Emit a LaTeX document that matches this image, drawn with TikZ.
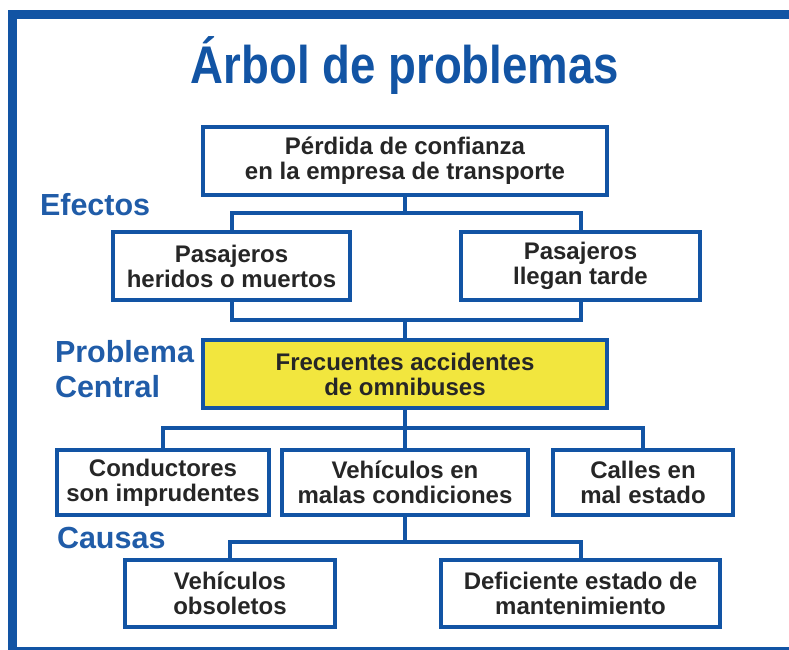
\documentclass[tikz,border=0pt]{standalone}
\usepackage{fontspec}
\setmainfont{Liberation Sans}
\newfontfamily\titlefont[FakeStretch=0.86]{Liberation Sans}
\usetikzlibrary{positioning, calc}

\definecolor{frameblue}{RGB}{18,84,164}
\definecolor{labelblue}{RGB}{32,92,168}
\definecolor{boxyellow}{RGB}{242,230,62}
\definecolor{ink}{RGB}{38,38,38}

\begin{document}
\begin{tikzpicture}[x=1pt, y=-1pt, line width=4pt]
	\tikzstyle{problem} = [draw=frameblue, fill=white, line width=4pt, inner sep=0pt, minimum height=68pt, align=center, text=ink, font=\fontsize{24}{25}\selectfont\bfseries];
	\tikzstyle{core} = [problem, fill=boxyellow];
	\tikzstyle{heading} = [text=labelblue, inner sep=0pt, font=\fontsize{30.5}{35}\selectfont\bfseries];
	\tikzstyle{link} = [draw=frameblue, line width=4pt];
	
	\useasboundingbox (0,0) rectangle (789,649);
	\draw[frameblue, line width=9pt] (12.5,14.5) rectangle (805,651);
	
	\node[text=frameblue, inner sep=0pt, anchor=base, font=\titlefont\fontsize{53}{60}\selectfont\bfseries] (title) at (405,83) {Árbol de problemas};
	
	% efectos
	\node[problem, minimum width=404pt] (perdida) at (405,161) {Pérdida de confianza\\en la empresa de transporte};
	\node[problem, minimum width=237pt] (heridos) at (231.5,266) {Pasajeros\\heridos o muertos};
	\node[problem, minimum width=239pt] (tarde) at (580.5,266) {Pasajeros\\llegan tarde};
	
	% problema central
	\node[core, minimum width=404pt] (central) at (405,374) {Frecuentes accidentes\\de omnibuses};
	
	% causas
	\node[problem, minimum width=212pt, minimum height=65pt] (conductores) at (163,482.5) {Conductores\\son imprudentes};
	\node[problem, minimum width=246pt, minimum height=65pt] (vehiculos) at (405,482.5) {Vehículos en\\malas condiciones};
	\node[problem, minimum width=180pt, minimum height=65pt] (calles) at (643,482.5) {Calles en\\mal estado};
	\node[problem, minimum width=210pt, minimum height=67pt] (obsoletos) at (230,593.5) {Vehículos\\obsoletos};
	\node[problem, minimum width=279pt, minimum height=67pt] (deficiente) at (580.5,593.5) {Deficiente estado de\\mantenimiento};
	
	\node[heading, anchor=base west] (efectos) at (38,215) {Efectos};
	\node[heading, anchor=base west] (problema) at (53,362) {Problema};
	\node[heading, anchor=base west] (centrallbl) at (53,397) {Central};
	\node[heading, anchor=base west] (causas) at (55,548) {Causas};
	
	\coordinate (j1) at (405,213);
	\coordinate (j2) at (405,320);
	\coordinate (j3) at (405,428);
	\coordinate (j4) at (405,542);
	
	\draw[link] (perdida.south) -- (j1);
	\draw[link] (heridos.north) |- (j1) -| (tarde.north);
	\draw[link] (heridos.south) |- (j2) -| (tarde.south);
	\draw[link] (j2) -- (central.north);
	\draw[link] (central.south) -- (vehiculos.north);
	\draw[link] (conductores.north) |- (j3) -| (calles.north);
	\draw[link] (vehiculos.south) -- (j4);
	\draw[link] (obsoletos.north) |- (j4) -| (deficiente.north);
	
\end{tikzpicture}
\end{document}
